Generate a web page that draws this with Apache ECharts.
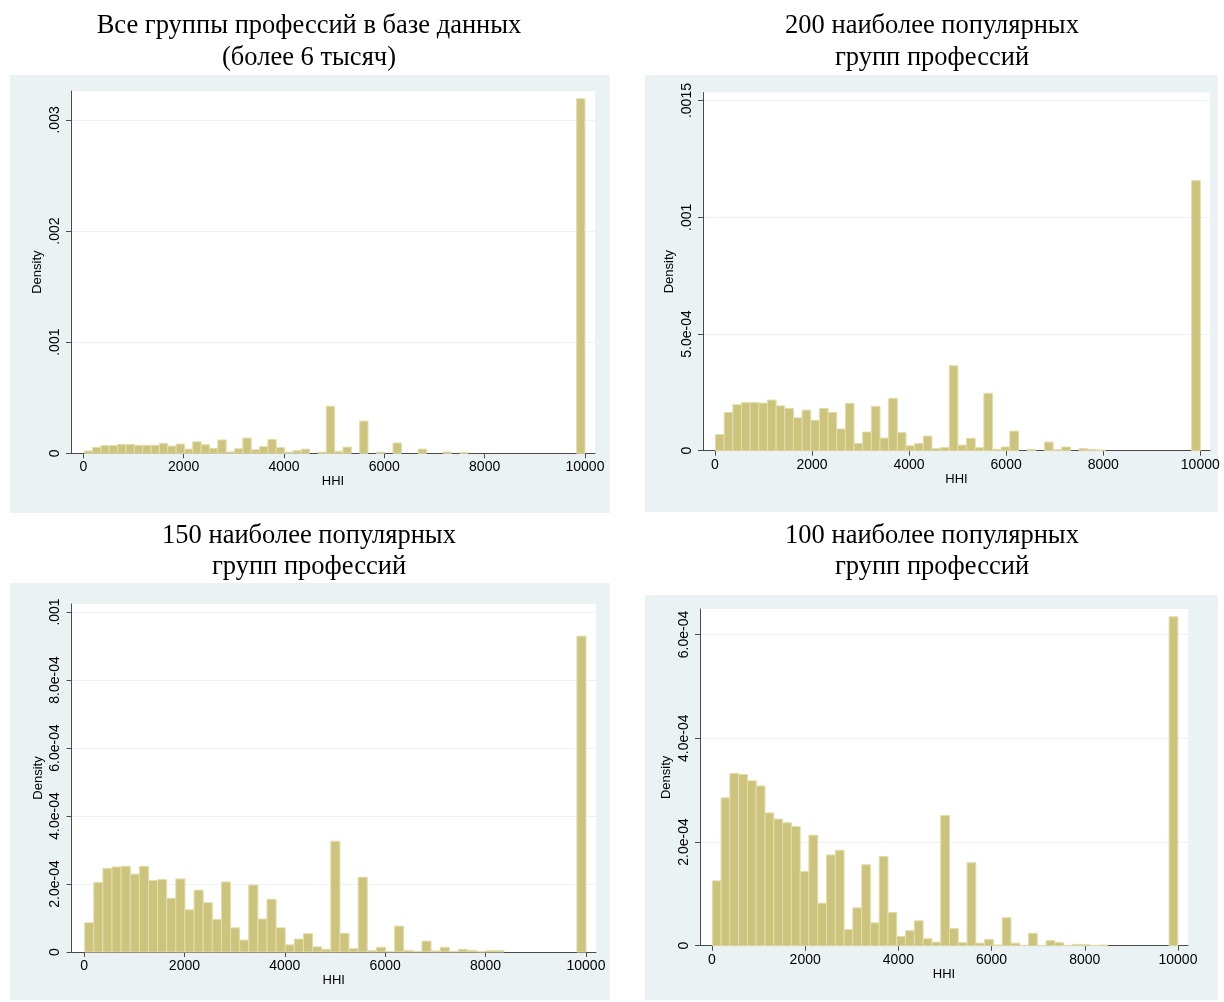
<!DOCTYPE html>
<html><head><meta charset="utf-8">
<script src="https://cdn.jsdelivr.net/npm/echarts@6/dist/echarts.min.js"></script>
<style>html,body{margin:0;padding:0;background:#fff}#c{width:1224px;height:1002px}</style>
</head><body><div id="c"></div>
<script>
// ---- data ----
const titles = [
  'Все группы профессий в базе данных\n(более 6 тысяч)',
  '200 наиболее популярных\nгрупп профессий',
  '150 наиболее популярных\nгрупп профессий',
  '100 наиболее популярных\nгрупп профессий'
];
const xName = 'HHI';
const yName = 'Density';
const xTicks = [0, 2000, 4000, 6000, 8000, 10000];

const yTicks1 = [0, 0.001, 0.002, 0.003];
const yLabels1 = ['0', '.001', '.002', '.003'];
const yTicks2 = [0, 0.0005, 0.001, 0.0015];
const yLabels2 = ['0', '5.0e-04', '.001', '.0015'];
const yTicks3 = [0, 0.0002, 0.0004, 0.0006, 0.0008, 0.001];
const yLabels3 = ['0', '2.0e-04', '4.0e-04', '6.0e-04', '8.0e-04', '.001'];
const yTicks4 = [0, 0.0002, 0.0004, 0.0006];
const yLabels4 = ['0', '2.0e-04', '4.0e-04', '6.0e-04'];

// histogram bins: first edge and bin width of each panel
const binStart1 = 20, binWidth1 = 166.33;
const binStart2 = 13, binWidth2 = 178.34;
const binStart3 = 13, binWidth3 = 181.6;
const binStart4 = 7,  binWidth4 = 188.5;

const density1 = [
  2.1e-5, 5.4e-5, 7.0e-5, 7.0e-5, 7.9e-5, 7.9e-5, 7.2e-5, 7.2e-5, 7.2e-5, 9.0e-5,
  6.5e-5, 8.3e-5, 3.8e-5, 1.04e-4, 7.7e-5, 4.5e-5, 1.2e-4, 1.2e-5, 4.1e-5, 1.37e-4,
  3.2e-5, 6.0e-5, 1.24e-4, 5.1e-5, 1.1e-5, 2.3e-5, 3.8e-5, 0, 1.1e-5, 4.23e-4,
  1.8e-5, 5.6e-5, 0, 2.9e-4, 0, 1.1e-5, 0, 9.3e-5, 0, 0,
  3.8e-5, 0, 0, 1.2e-5, 0, 9e-6, 0, 0, 0, 0,
  0, 0, 0, 0, 0, 0, 0, 0, 0, 3.19e-3
];
const density2 = [
  6.9e-5, 1.64e-4, 1.97e-4, 2.06e-4, 2.06e-4, 2.04e-4, 2.17e-4, 1.92e-4, 1.81e-4, 1.41e-4,
  1.74e-4, 1.30e-4, 1.81e-4, 1.64e-4, 9.3e-5, 2.03e-4, 3.1e-5, 8.0e-5, 1.90e-4, 5.4e-5,
  2.24e-4, 7.8e-5, 2.1e-5, 3.1e-5, 6.3e-5, 9e-6, 1.4e-5, 3.64e-4, 2.4e-5, 5.3e-5,
  1.4e-5, 2.46e-4, 6e-6, 1.6e-5, 8.4e-5, 0, 6e-6, 0, 3.7e-5, 4e-6,
  1.6e-5, 0, 9e-6, 6e-6, 3e-6, 0, 0, 0, 0, 0,
  0, 0, 0, 0, 0, 1.157e-3
];
const density3 = [
  8.6e-5, 2.05e-4, 2.46e-4, 2.50e-4, 2.52e-4, 2.29e-4, 2.52e-4, 2.10e-4, 2.13e-4, 1.58e-4,
  2.15e-4, 1.24e-4, 1.82e-4, 1.45e-4, 9.6e-5, 2.06e-4, 7.1e-5, 3.5e-5, 1.97e-4, 9.7e-5,
  1.55e-4, 7.1e-5, 2.1e-5, 3.8e-5, 5.4e-5, 1.5e-5, 8e-6, 3.26e-4, 5.5e-5, 1.0e-5,
  2.20e-4, 4e-6, 1.4e-5, 1.5e-6, 7.6e-5, 5e-6, 2e-6, 3.2e-5, 3e-6, 1.4e-5,
  1.5e-6, 8e-6, 5e-6, 1e-6, 4e-6, 4e-6, 0, 0, 0, 0,
  0, 0, 0, 0, 9.29e-4
];
const density4 = [
  1.25e-4, 2.85e-4, 3.32e-4, 3.30e-4, 3.18e-4, 3.08e-4, 2.56e-4, 2.44e-4, 2.37e-4, 2.30e-4,
  1.43e-4, 2.13e-4, 8.2e-5, 1.75e-4, 1.84e-4, 3.1e-5, 7.3e-5, 1.56e-4, 4.4e-5, 1.72e-4,
  6.4e-5, 1.8e-5, 2.9e-5, 4.8e-5, 1.35e-5, 7e-6, 2.51e-4, 3.3e-5, 6e-6, 1.60e-4,
  5e-6, 1.2e-5, 1.3e-6, 5.4e-5, 5e-6, 6e-7, 2.4e-5, 6e-7, 1.0e-5, 6e-6,
  6e-7, 2.5e-6, 2e-6, 6e-7, 1.3e-6, 0, 0, 0, 0, 0,
  0, 0, 6.34e-4
];

// ---- layout / style ----
const FILL = '#CCC37C', EDGE = '#E3DDAE', BG = '#EAF2F3', AX = '#4a4a4a';
const SANS = 'Liberation Sans', SERIF = 'Liberation Serif';

const panels = [
  {bg:[10,75,600,438], title:{x:309, y:10, lh:32}, grid:{left:71, top:91, width:524, height:362.3},
   xMin:-245, xMax:10200, yMax:0.00326, yT:yTicks1, yL:yLabels1, start:binStart1, w:binWidth1, d:density1},
  {bg:[645,75,573,437], title:{x:932, y:10, lh:32}, grid:{left:703, top:92.6, width:507, height:358.1},
   xMin:-245, xMax:10200, yMax:0.001534, yT:yTicks2, yL:yLabels2, start:binStart2, w:binWidth2, d:density2},
  {bg:[10,583,600,417], title:{x:309, y:520.5, lh:31}, grid:{left:71.5, top:604, width:524.5, height:348},
   xMin:-250, xMax:10200, yMax:0.0010235, yT:yTicks3, yL:yLabels3, start:binStart3, w:binWidth3, d:density3},
  {bg:[645,595,573,405], title:{x:932, y:520.5, lh:31}, grid:{left:700, top:609, width:488, height:336.7},
   xMin:-257, xMax:10215, yMax:0.000649, yT:yTicks4, yL:yLabels4, start:binStart4, w:binWidth4, d:density4}
];

function labelFor(ticks, labels) {
  return function (v) {
    for (let i = 0; i < ticks.length; i++) if (Math.abs(ticks[i] - v) < 1e-9) return labels[i];
    return '';
  };
}

const option = {
  backgroundColor: '#ffffff',
  animation: false,
  graphic: panels.map(p => ({type:'rect', z:-10, silent:true,
    shape:{x:p.bg[0], y:p.bg[1], width:p.bg[2], height:p.bg[3]}, style:{fill:BG}})),
  title: panels.map((p, i) => ({
    text: titles[i], left: p.title.x, top: p.title.y, textAlign: 'center', padding: 0,
    textStyle: {fontFamily: SERIF, fontSize: 26.5, fontWeight: 'normal', color: '#000', lineHeight: p.title.lh}
  })),
  grid: panels.map(p => ({left:p.grid.left, top:p.grid.top, width:p.grid.width, height:p.grid.height,
    show:true, backgroundColor:'#ffffff', borderWidth:0, containLabel:false})),
  xAxis: panels.map((p, i) => ({
    type:'value', gridIndex:i, min:p.xMin, max:p.xMax,
    name:xName, nameLocation:'middle', nameGap:21,
    nameTextStyle:{fontFamily:SANS, fontSize:13, color:'#000'},
    axisLine:{show:true, onZero:false, lineStyle:{color:AX, width:1}},
    axisTick:{show:true, inside:false, length:5, customValues:xTicks, lineStyle:{color:AX, width:1}},
    axisLabel:{customValues:xTicks, fontFamily:SANS, fontSize:14, color:'#000', margin:7, formatter:v => String(v)},
    splitLine:{show:false}
  })),
  yAxis: panels.map((p, i) => ({
    type:'value', gridIndex:i, min:0, max:p.yMax,
    name:yName, nameLocation:'middle', nameGap:27,
    nameTextStyle:{fontFamily:SANS, fontSize:13, color:'#000'},
    axisLine:{show:true, onZero:false, lineStyle:{color:AX, width:1}},
    axisTick:{show:true, inside:false, length:5, customValues:p.yT, lineStyle:{color:AX, width:1}},
    axisLabel:{customValues:p.yT, rotate:90, fontFamily:SANS, fontSize:14, color:'#000', margin:9,
      formatter:labelFor(p.yT, p.yL)},
    splitLine:{show:true, lineStyle:{color:BG, width:1}}
  })),
  series: panels.map((p, i) => ({
    type:'custom', xAxisIndex:i, yAxisIndex:i, clip:false,
    data: p.d.map((v, k) => [p.start + k * p.w, p.start + (k + 1) * p.w, v]),
    encode:{x:[0, 1], y:2},
    renderItem: function (params, api) {
      const v = api.value(2);
      if (!(v > 0)) return null;
      const a = api.coord([api.value(0), 0]);
      const b = api.coord([api.value(1), v]);
      return {type:'rect', shape:{x:a[0], y:b[1], width:b[0] - a[0], height:a[1] - b[1]},
        style:{fill:FILL, stroke:EDGE, lineWidth:1}};
    }
  }))
};

const chart = echarts.init(document.getElementById('c'), null, {renderer:'canvas'});
chart.setOption(option);
</script>
</body></html>
